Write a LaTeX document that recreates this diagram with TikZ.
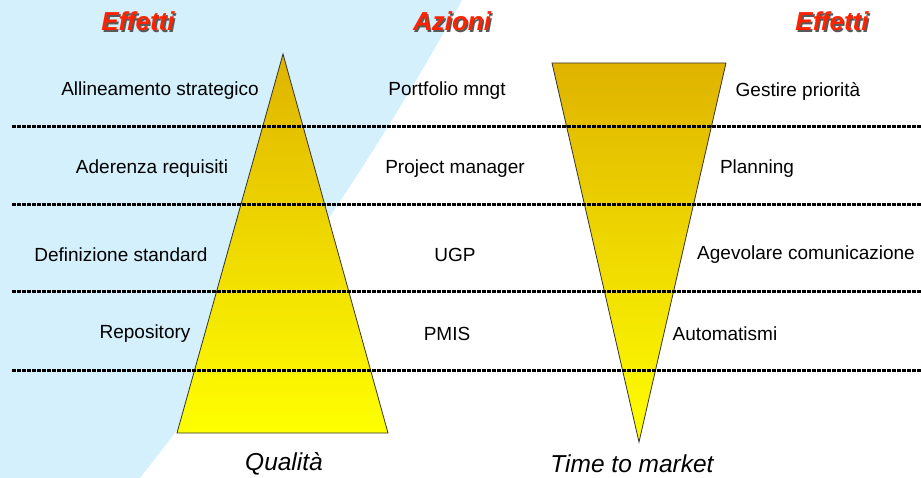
\documentclass[tikz,border=0pt]{standalone}
\usepackage{fontspec}
\setmainfont{Liberation Sans}
\definecolor{skyblue}{HTML}{D3F0FC}
\definecolor{headred}{HTML}{FF2200}
\definecolor{darkgold}{HTML}{DFB300}
\definecolor{lightgold}{HTML}{FFFF00}
\newcommand{\shadowed}[1]{\rlap{\hspace{1.6pt}\raisebox{-1.6pt}{\textcolor{black!65}{#1}}}#1}

\begin{document}
\begin{tikzpicture}[x=1pt, y=-1pt,
        head/.style={text=headred, inner sep=0pt, font=\fontsize{26}{30}\selectfont\bfseries\itshape},
        item/.style={inner sep=0pt, font=\fontsize{19}{22}\selectfont},
        axislabel/.style={inner sep=0pt, font=\fontsize{24.5}{28}\selectfont\itshape},
        sep/.style={draw=black, line width=3pt, dash pattern=on 3.6pt off 1.4pt},
        wedge/.style={draw=black!80, line width=0.8pt, top color=darkgold, bottom color=lightgold}
    ]
    \useasboundingbox (0,0) rectangle (921,478);
    % Background
    \fill[skyblue] (0,0) -- (462,0) .. controls (374,160) and (265,318) .. (140,478) -- (0,478) -- cycle;

    % Triangles
    \coordinate (qtop) at (283,54);
    \coordinate (qleft) at (177,433);
    \coordinate (qright) at (388,433);
    \coordinate (tleft) at (552,63);
    \coordinate (tright) at (726,63);
    \coordinate (tbottom) at (639,442);
    \shade[wedge] (qtop) -- (qright) -- (qleft) -- cycle;
    \shade[wedge] (tleft) -- (tright) -- (tbottom) -- cycle;

    % Separators
    \foreach \y in {127,205,292,370}
        \draw[sep] (12,\y) -- (921,\y);

    % Headers
    \node[head] (effL) at (138,22) {\shadowed{Effetti}};
    \node[head] (azioni) at (452,22) {\shadowed{Azioni}};
    \node[head] (effR) at (832,22) {\shadowed{Effetti}};

    % Left column
    \node[item] (allin) at (160,91) {Allineamento strategico};
    \node[item] (aderenza) at (152,169) {Aderenza requisiti};
    \node[item] (defstd) at (121,255) {Definizione standard};
    \node[item] (repo) at (145,334) {Repository};

    % Middle column
    \node[item] (portf) at (447,91) {Portfolio mngt};
    \node[item] (projmgr) at (455,169) {Project manager};
    \node[item] (ugp) at (455,255) {UGP};
    \node[item] (pmis) at (447,334) {PMIS};

    % Right column
    \node[item] (gestire) at (798,91) {Gestire priorità};
    \node[item] (planning) at (757,169) {Planning};
    \node[item] (agevolare) at (806,255) {Agevolare comunicazione};
    \node[item] (autom) at (725,334) {Automatismi};

    % Bottom labels
    \node[axislabel] (qualita) at (284,464) {Qualità};
    \node[axislabel] (ttm) at (632,464) {Time to market};
\end{tikzpicture}
\end{document}
